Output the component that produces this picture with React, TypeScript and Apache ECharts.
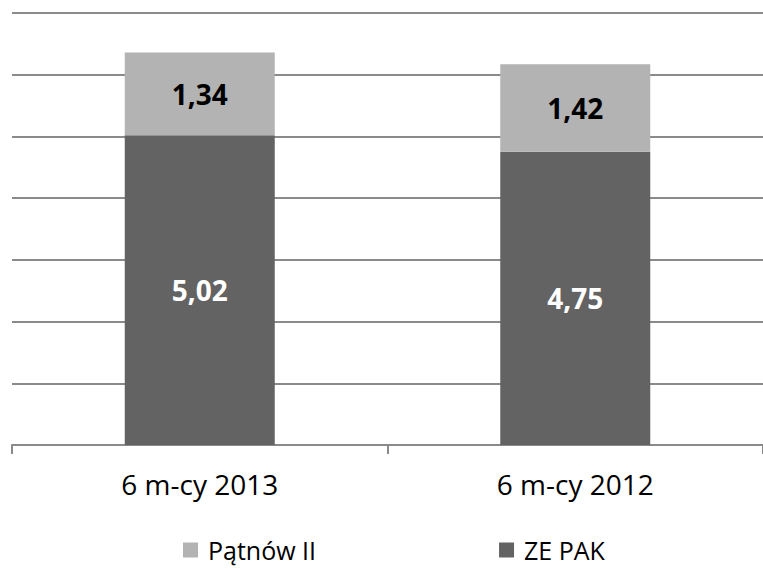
import React, { useEffect, useRef } from "react";
import * as echarts from "echarts";

const categories = ["6 m-cy 2013", "6 m-cy 2012"];
const zePak = [5.02, 4.75];
const patnow = [1.34, 1.42];
const seriesNames = ["ZE PAK", "Pątnów II"];

export default function App() {
  const ref = useRef<HTMLDivElement>(null);
  useEffect(() => {
    if (!ref.current) return;
    const chart = echarts.init(ref.current, null, { renderer: "svg" });
    const fmt = (p: any) => String(p.value.toFixed(2)).replace(".", ",");
    chart.setOption({
      animation: false,
      textStyle: { fontFamily: "Open Sans" },
      grid: { left: 12, width: 757, top: 13, bottom: 125, containLabel: false },
      legend: {
        data: [seriesNames[1], seriesNames[0]],
        left: 183,
        top: 536,
        padding: 0,
        itemWidth: 15,
        itemHeight: 15,
        itemGap: 183,
        icon: "rect",
        textStyle: { fontSize: 25, lineHeight: 28, color: "#000", fontFamily: "Open Sans", padding: [0, 0, 0, 5] },
      },
      xAxis: {
        type: "category",
        data: categories,
        axisLine: { show: true, lineStyle: { color: "#8a8a8a", width: 2 } },
        axisTick: { show: true, length: 9, lineStyle: { color: "#8a8a8a", width: 2 } },
        axisLabel: { fontSize: 28, color: "#000", margin: 25, fontFamily: "Open Sans" },
      },
      yAxis: {
        type: "value",
        min: 0,
        max: 7,
        interval: 1,
        axisLabel: { show: false },
        axisLine: { show: false },
        axisTick: { show: false },
        splitLine: { show: true, lineStyle: { color: "#8a8a8a", width: 2 } },
      },
      series: [
        {
          name: seriesNames[0],
          type: "bar",
          stack: "a",
          data: zePak,
          barWidth: 150,
          itemStyle: { color: "#636363" },
          label: {
            show: true,
            position: "inside",
            formatter: fmt,
            color: "#fff",
            fontSize: 28,
            fontWeight: "bold",
            fontFamily: "Open Sans",
          },
        },
        {
          name: seriesNames[1],
          type: "bar",
          stack: "a",
          data: patnow,
          barWidth: 150,
          itemStyle: { color: "#b3b3b3" },
          label: {
            show: true,
            position: "inside",
            formatter: fmt,
            color: "#000",
            fontSize: 28,
            fontWeight: "bold",
            fontFamily: "Open Sans",
          },
        },
      ],
    });
    return () => chart.dispose();
  }, []);
  return (
    <div
      ref={ref}
      style={{ position: "absolute", left: 0, top: 0, width: 763, height: 570 }}
    />
  );
}
